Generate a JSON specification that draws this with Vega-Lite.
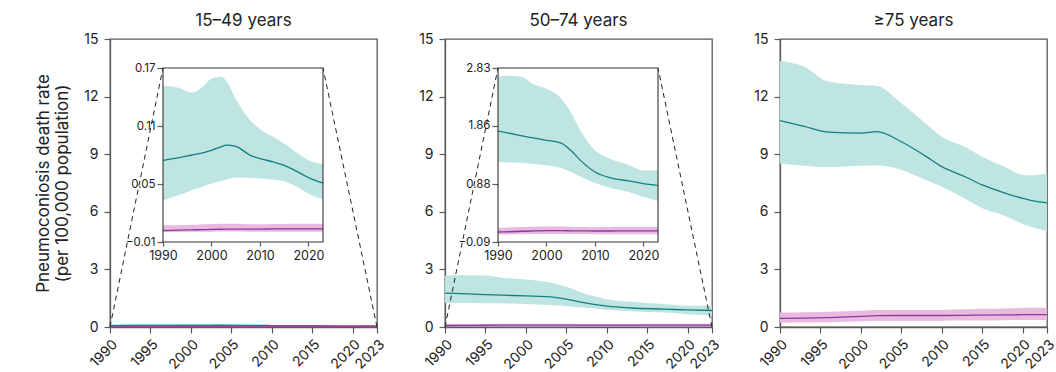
{
  "$schema": "https://vega.github.io/schema/vega-lite/v6.json",
  "padding": {"left": 34, "top": 11, "right": 5, "bottom": 0},
  "config": {
    "font": "Inter",
    "view": {"stroke": "#5a5a5a", "strokeWidth": 1.3},
    "axis": {"grid": false, "labelOverlap": false, "labelFlush": false, "domainColor": "#5a5a5a", "domainWidth": 1.3, "tickColor": "#5a5a5a", "tickWidth": 1.2, "tickSize": 6, "labelFontSize": 14, "labelColor": "#222", "labelPadding": 6, "titleFontSize": 17, "titleFontWeight": "normal", "titleColor": "#222"},
    "title": {"fontSize": 17, "fontWeight": "normal", "color": "#222", "offset": 2}
  },
  "datasets": {
    "p1": [
      {"year": 1990, "m": 0.0745, "m_lo": 0.0331, "m_hi": 0.152, "f": 0.0018, "f_lo": 0.0003, "f_hi": 0.0072},
      {"year": 1993, "m": 0.077, "m_lo": 0.038, "m_hi": 0.1497, "f": 0.0022, "f_lo": 0.0004, "f_hi": 0.0074},
      {"year": 1996, "m": 0.080, "m_lo": 0.0435, "m_hi": 0.1445, "f": 0.0026, "f_lo": 0.0005, "f_hi": 0.0078},
      {"year": 1998, "m": 0.082, "m_lo": 0.047, "m_hi": 0.1497, "f": 0.0028, "f_lo": 0.0006, "f_hi": 0.0082},
      {"year": 2000, "m": 0.0849, "m_lo": 0.0504, "m_hi": 0.159, "f": 0.003, "f_lo": 0.0007, "f_hi": 0.0085},
      {"year": 2002, "m": 0.0885, "m_lo": 0.053, "m_hi": 0.161, "f": 0.0032, "f_lo": 0.0008, "f_hi": 0.0088},
      {"year": 2003, "m": 0.0903, "m_lo": 0.0545, "m_hi": 0.157, "f": 0.0033, "f_lo": 0.0008, "f_hi": 0.0089},
      {"year": 2005, "m": 0.089, "m_lo": 0.0566, "m_hi": 0.138, "f": 0.0034, "f_lo": 0.0008, "f_hi": 0.0088},
      {"year": 2008, "m": 0.0797, "m_lo": 0.0565, "m_hi": 0.116, "f": 0.0034, "f_lo": 0.0007, "f_hi": 0.0084},
      {"year": 2010, "m": 0.0763, "m_lo": 0.0556, "m_hi": 0.107, "f": 0.0034, "f_lo": 0.0007, "f_hi": 0.0083},
      {"year": 2013, "m": 0.0725, "m_lo": 0.0545, "m_hi": 0.098, "f": 0.0035, "f_lo": 0.0007, "f_hi": 0.0085},
      {"year": 2015, "m": 0.0693, "m_lo": 0.0528, "m_hi": 0.0918, "f": 0.0035, "f_lo": 0.0007, "f_hi": 0.0087},
      {"year": 2018, "m": 0.062, "m_lo": 0.046, "m_hi": 0.081, "f": 0.0036, "f_lo": 0.0007, "f_hi": 0.0088},
      {"year": 2020, "m": 0.0566, "m_lo": 0.040, "m_hi": 0.0745, "f": 0.0036, "f_lo": 0.0007, "f_hi": 0.0088},
      {"year": 2023, "m": 0.051, "m_lo": 0.0342, "m_hi": 0.0704, "f": 0.0036, "f_lo": 0.0006, "f_hi": 0.0088}
    ],
    "p2": [
      {"year": 1990, "m": 1.77, "m_lo": 1.247, "m_hi": 2.68, "f": 0.078, "f_lo": 0.035, "f_hi": 0.15},
      {"year": 1992, "m": 1.74, "m_lo": 1.245, "m_hi": 2.70, "f": 0.082, "f_lo": 0.037, "f_hi": 0.155},
      {"year": 1995, "m": 1.69, "m_lo": 1.24, "m_hi": 2.68, "f": 0.09, "f_lo": 0.04, "f_hi": 0.16},
      {"year": 1997, "m": 1.66, "m_lo": 1.225, "m_hi": 2.57, "f": 0.095, "f_lo": 0.043, "f_hi": 0.165},
      {"year": 2000, "m": 1.617, "m_lo": 1.20, "m_hi": 2.48, "f": 0.10, "f_lo": 0.045, "f_hi": 0.17},
      {"year": 2003, "m": 1.57, "m_lo": 1.15, "m_hi": 2.32, "f": 0.10, "f_lo": 0.045, "f_hi": 0.17},
      {"year": 2005, "m": 1.449, "m_lo": 1.085, "m_hi": 2.09, "f": 0.098, "f_lo": 0.044, "f_hi": 0.165},
      {"year": 2007, "m": 1.28, "m_lo": 1.01, "m_hi": 1.78, "f": 0.096, "f_lo": 0.043, "f_hi": 0.16},
      {"year": 2010, "m": 1.085, "m_lo": 0.90, "m_hi": 1.45, "f": 0.095, "f_lo": 0.042, "f_hi": 0.158},
      {"year": 2013, "m": 0.99, "m_lo": 0.82, "m_hi": 1.31, "f": 0.095, "f_lo": 0.042, "f_hi": 0.16},
      {"year": 2017, "m": 0.934, "m_lo": 0.75, "m_hi": 1.20, "f": 0.096, "f_lo": 0.042, "f_hi": 0.165},
      {"year": 2020, "m": 0.89, "m_lo": 0.665, "m_hi": 1.11, "f": 0.096, "f_lo": 0.042, "f_hi": 0.165},
      {"year": 2023, "m": 0.86, "m_lo": 0.60, "m_hi": 1.12, "f": 0.096, "f_lo": 0.042, "f_hi": 0.165}
    ],
    "p3": [
      {"year": 1990, "m": 10.75, "m_lo": 8.52, "m_hi": 13.85, "f": 0.45, "f_lo": 0.22, "f_hi": 0.76},
      {"year": 1993, "m": 10.45, "m_lo": 8.40, "m_hi": 13.56, "f": 0.46, "f_lo": 0.23, "f_hi": 0.77},
      {"year": 1996, "m": 10.15, "m_lo": 8.33, "m_hi": 12.78, "f": 0.49, "f_lo": 0.25, "f_hi": 0.80},
      {"year": 2000, "m": 10.1, "m_lo": 8.40, "m_hi": 12.6, "f": 0.55, "f_lo": 0.30, "f_hi": 0.85},
      {"year": 2002, "m": 10.18, "m_lo": 8.42, "m_hi": 12.55, "f": 0.59, "f_lo": 0.32, "f_hi": 0.88},
      {"year": 2005, "m": 9.65, "m_lo": 8.18, "m_hi": 11.65, "f": 0.60, "f_lo": 0.33, "f_hi": 0.88},
      {"year": 2008, "m": 8.9, "m_lo": 7.66, "m_hi": 10.6, "f": 0.60, "f_lo": 0.33, "f_hi": 0.88},
      {"year": 2010, "m": 8.35, "m_lo": 7.31, "m_hi": 9.91, "f": 0.60, "f_lo": 0.33, "f_hi": 0.89},
      {"year": 2013, "m": 7.8, "m_lo": 6.65, "m_hi": 9.35, "f": 0.61, "f_lo": 0.34, "f_hi": 0.92},
      {"year": 2015, "m": 7.4, "m_lo": 6.18, "m_hi": 8.87, "f": 0.62, "f_lo": 0.34, "f_hi": 0.95},
      {"year": 2018, "m": 6.95, "m_lo": 5.75, "m_hi": 8.3, "f": 0.63, "f_lo": 0.35, "f_hi": 0.97},
      {"year": 2020, "m": 6.7, "m_lo": 5.36, "m_hi": 7.92, "f": 0.64, "f_lo": 0.36, "f_hi": 0.99},
      {"year": 2021, "m": 6.6, "m_lo": 5.22, "m_hi": 7.9, "f": 0.64, "f_lo": 0.36, "f_hi": 1.0},
      {"year": 2023, "m": 6.47, "m_lo": 5.0, "m_hi": 8.0, "f": 0.64, "f_lo": 0.36, "f_hi": 1.0}
    ],
    "conn": [
      {"x": 1990, "y": 0, "x2": 1996.55, "y2": 13.49},
      {"x": 2023, "y": 0, "x2": 2016.33, "y2": 13.49}
    ],
    "frame1": [{"x0": 1990, "x1": 2023, "y0": -0.01, "y1": 0.17}],
    "frame2": [{"x0": 1990, "x1": 2023, "y0": -0.09, "y1": 2.83}]
  },
  "bounds": "flush",
  "spacing": 68,
  "hconcat": [
    {
      "title": "15–49 years",
      "width": 267, "height": 288,
      "resolve": {"scale": {"x": "independent", "y": "independent"}},
      "layer": [
        {
          "data": {"name": "p1"},
          "encoding": {
            "x": {"field": "year", "type": "quantitative", "scale": {"domain": [1990, 2023], "nice": false, "zero": false}, "axis": {"values": [1990, 1995, 2000, 2005, 2010, 2015, 2020, 2023], "format": "d", "labelAngle": -45, "labelAlign": "right", "labelBaseline": "top", "labelPadding": 4, "title": null}}
          },
          "layer": [
            {"mark": {"type": "area", "color": "#bfe5e3", "interpolate": "monotone"}, "encoding": {"y": {"field": "m_lo", "type": "quantitative", "title": ["Pneumoconiosis death rate", "(per 100,000 population)"], "scale": {"domain": [0, 15], "nice": false}, "axis": {"values": [0, 3, 6, 9, 12, 15], "titlePadding": 12}}, "y2": {"field": "m_hi"}}},
            {"mark": {"type": "area", "color": "#eab9df", "interpolate": "monotone"}, "encoding": {"y": {"field": "f_lo", "type": "quantitative", "title": ["Pneumoconiosis death rate", "(per 100,000 population)"]}, "y2": {"field": "f_hi"}}},
            {"mark": {"type": "line", "color": "#14807e", "strokeWidth": 1.3, "interpolate": "monotone"}, "encoding": {"y": {"field": "m", "type": "quantitative", "title": ["Pneumoconiosis death rate", "(per 100,000 population)"]}}},
            {"mark": {"type": "line", "color": "#8a3aa0", "strokeWidth": 1.3, "interpolate": "monotone"}, "encoding": {"y": {"field": "f", "type": "quantitative", "title": ["Pneumoconiosis death rate", "(per 100,000 population)"]}}},
            {"data": {"name": "conn"}, "mark": {"type": "rule", "color": "#222", "strokeWidth": 1, "strokeDash": [5, 4]}, "encoding": {"x": {"field": "x", "type": "quantitative"}, "x2": {"field": "x2"}, "y": {"field": "y", "type": "quantitative", "title": ["Pneumoconiosis death rate", "(per 100,000 population)"]}, "y2": {"field": "y2"}}}
          ]
        },
        {
          "data": {"name": "p1"},
          "encoding": {
            "x": {"field": "year", "type": "quantitative", "scale": {"domain": [1990, 2023], "range": [53, 213], "nice": false, "zero": false}, "axis": {"orient": "bottom", "offset": -85, "values": [1990, 2000, 2010, 2020], "format": "d", "labelAngle": 0, "title": null, "domain": false, "tickSize": 4, "labelPadding": 3, "labelFontSize": 12.5}}
          },
          "layer": [
            {"mark": {"type": "area", "color": "#bfe5e3", "interpolate": "monotone"}, "encoding": {"y": {"field": "m_lo", "type": "quantitative", "title": null, "scale": {"domain": [-0.01, 0.17], "range": [203, 29], "nice": false, "zero": false}, "axis": {"orient": "left", "offset": -53, "values": [-0.01, 0.05, 0.11, 0.17], "format": ".2f", "domain": false, "tickSize": 6, "labelPadding": 2, "labelFontSize": 11.5}}, "y2": {"field": "m_hi"}}},
            {"mark": {"type": "area", "color": "#eab9df", "interpolate": "monotone"}, "encoding": {"y": {"field": "f_lo", "type": "quantitative", "title": null}, "y2": {"field": "f_hi"}}},
            {"mark": {"type": "line", "color": "#14807e", "strokeWidth": 1.3, "interpolate": "monotone"}, "encoding": {"y": {"field": "m", "type": "quantitative", "title": null}}},
            {"mark": {"type": "line", "color": "#8a3aa0", "strokeWidth": 1.3, "interpolate": "monotone"}, "encoding": {"y": {"field": "f", "type": "quantitative", "title": null}}},
            {"data": {"name": "frame1"}, "mark": {"type": "rect", "filled": false, "stroke": "#333", "strokeWidth": 1.1}, "encoding": {"x": {"field": "x0", "type": "quantitative"}, "x2": {"field": "x1"}, "y": {"field": "y0", "type": "quantitative", "title": null}, "y2": {"field": "y1"}}}
          ]
        }
      ]
    },
    {
      "title": "50–74 years",
      "width": 267, "height": 288,
      "resolve": {"scale": {"x": "independent", "y": "independent"}},
      "layer": [
        {
          "data": {"name": "p2"},
          "encoding": {
            "x": {"field": "year", "type": "quantitative", "scale": {"domain": [1990, 2023], "nice": false, "zero": false}, "axis": {"values": [1990, 1995, 2000, 2005, 2010, 2015, 2020, 2023], "format": "d", "labelAngle": -45, "labelAlign": "right", "labelBaseline": "top", "labelPadding": 4, "title": null}}
          },
          "layer": [
            {"mark": {"type": "area", "color": "#bfe5e3", "interpolate": "monotone"}, "encoding": {"y": {"field": "m_lo", "type": "quantitative", "title": null, "scale": {"domain": [0, 15], "nice": false}, "axis": {"values": [0, 3, 6, 9, 12, 15]}}, "y2": {"field": "m_hi"}}},
            {"mark": {"type": "area", "color": "#eab9df", "interpolate": "monotone"}, "encoding": {"y": {"field": "f_lo", "type": "quantitative", "title": null}, "y2": {"field": "f_hi"}}},
            {"mark": {"type": "line", "color": "#14807e", "strokeWidth": 1.3, "interpolate": "monotone"}, "encoding": {"y": {"field": "m", "type": "quantitative", "title": null}}},
            {"mark": {"type": "line", "color": "#8a3aa0", "strokeWidth": 1.3, "interpolate": "monotone"}, "encoding": {"y": {"field": "f", "type": "quantitative", "title": null}}},
            {"data": {"name": "conn"}, "mark": {"type": "rule", "color": "#222", "strokeWidth": 1, "strokeDash": [5, 4]}, "encoding": {"x": {"field": "x", "type": "quantitative"}, "x2": {"field": "x2"}, "y": {"field": "y", "type": "quantitative", "title": null}, "y2": {"field": "y2"}}}
          ]
        },
        {
          "data": {"name": "p2"},
          "encoding": {
            "x": {"field": "year", "type": "quantitative", "scale": {"domain": [1990, 2023], "range": [53, 213], "nice": false, "zero": false}, "axis": {"orient": "bottom", "offset": -85, "values": [1990, 2000, 2010, 2020], "format": "d", "labelAngle": 0, "title": null, "domain": false, "tickSize": 4, "labelPadding": 3, "labelFontSize": 12.5}}
          },
          "layer": [
            {"mark": {"type": "area", "color": "#bfe5e3", "interpolate": "monotone"}, "encoding": {"y": {"field": "m_lo", "type": "quantitative", "title": null, "scale": {"domain": [-0.09, 2.83], "range": [203, 29], "nice": false, "zero": false}, "axis": {"orient": "left", "offset": -53, "values": [-0.09, 0.88, 1.86, 2.83], "format": ".2f", "domain": false, "tickSize": 6, "labelPadding": 2, "labelFontSize": 11.5}}, "y2": {"field": "m_hi"}}},
            {"mark": {"type": "area", "color": "#eab9df", "interpolate": "monotone"}, "encoding": {"y": {"field": "f_lo", "type": "quantitative", "title": null}, "y2": {"field": "f_hi"}}},
            {"mark": {"type": "line", "color": "#14807e", "strokeWidth": 1.3, "interpolate": "monotone"}, "encoding": {"y": {"field": "m", "type": "quantitative", "title": null}}},
            {"mark": {"type": "line", "color": "#8a3aa0", "strokeWidth": 1.3, "interpolate": "monotone"}, "encoding": {"y": {"field": "f", "type": "quantitative", "title": null}}},
            {"data": {"name": "frame2"}, "mark": {"type": "rect", "filled": false, "stroke": "#333", "strokeWidth": 1.1}, "encoding": {"x": {"field": "x0", "type": "quantitative"}, "x2": {"field": "x1"}, "y": {"field": "y0", "type": "quantitative", "title": null}, "y2": {"field": "y1"}}}
          ]
        }
      ]
    },
    {
      "title": "≥75 years",
      "width": 267, "height": 288,
      "data": {"name": "p3"},
      "encoding": {
        "x": {"field": "year", "type": "quantitative", "scale": {"domain": [1990, 2023], "nice": false, "zero": false}, "axis": {"values": [1990, 1995, 2000, 2005, 2010, 2015, 2020, 2023], "format": "d", "labelAngle": -45, "labelAlign": "right", "labelBaseline": "top", "labelPadding": 4, "title": null}}
      },
      "layer": [
        {"mark": {"type": "area", "color": "#bfe5e3", "interpolate": "monotone"}, "encoding": {"y": {"field": "m_lo", "type": "quantitative", "title": null, "scale": {"domain": [0, 15], "nice": false}, "axis": {"values": [0, 3, 6, 9, 12, 15]}}, "y2": {"field": "m_hi"}}},
        {"mark": {"type": "area", "color": "#eab9df", "interpolate": "monotone"}, "encoding": {"y": {"field": "f_lo", "type": "quantitative", "title": null}, "y2": {"field": "f_hi"}}},
        {"mark": {"type": "line", "color": "#14807e", "strokeWidth": 1.3, "interpolate": "monotone"}, "encoding": {"y": {"field": "m", "type": "quantitative", "title": null}}},
        {"mark": {"type": "line", "color": "#8a3aa0", "strokeWidth": 1.3, "interpolate": "monotone"}, "encoding": {"y": {"field": "f", "type": "quantitative", "title": null}}}
      ]
    }
  ]
}
